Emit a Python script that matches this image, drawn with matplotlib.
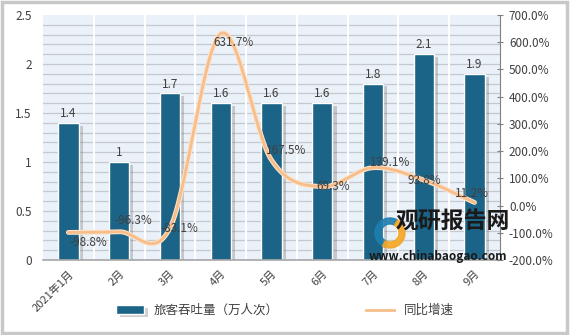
import numpy as np
import matplotlib
matplotlib.use('Agg')
import matplotlib.pyplot as plt
import matplotlib.patheffects as pe
from matplotlib.patches import Rectangle, Wedge

plt.rcParams['font.family'] = ['Noto Sans CJK SC', 'DejaVu Sans']

months = ['2021年1月', '2月', '3月', '4月', '5月', '6月', '7月', '8月', '9月']
passengers = [1.4, 1.0, 1.7, 1.6, 1.6, 1.6, 1.8, 2.1, 1.9]
passenger_labels = ['1.4', '1', '1.7', '1.6', '1.6', '1.6', '1.8', '2.1', '1.9']
growth = [-98.8, -96.3, -83.1, 631.7, 167.5, 69.3, 139.1, 93.8, 11.2]
# label offsets in pixels (dx, dy) relative to the line points
growth_offsets = [(20, -10), (14, 11), (9, 0), (13, -9), (15, 9), (11, 0), (17, 5), (1, 0), (-3, 9)]

bar_color = '#1b6488'
line_color = '#f7bd8a'
text_color = '#404040'


def smooth(xs, ys, n=30):
    # cubic hermite (catmull-rom style) for a smoothed line like the spreadsheet one
    xs = np.asarray(xs, float)
    ys = np.asarray(ys, float)
    m = np.gradient(ys)
    out_x, out_y = [], []
    for i in range(len(xs) - 1):
        t = np.linspace(0, 1, n, endpoint=False)
        h00 = 2*t**3 - 3*t**2 + 1
        h10 = t**3 - 2*t**2 + t
        h01 = -2*t**3 + 3*t**2
        h11 = t**3 - t**2
        out_x.extend(xs[i] + t*(xs[i+1]-xs[i]))
        out_y.extend(h00*ys[i] + h10*m[i] + h01*ys[i+1] + h11*m[i+1])
    out_x.append(xs[-1])
    out_y.append(ys[-1])
    return np.array(out_x), np.array(out_y)


fig = plt.figure(figsize=(5.7, 3.35), dpi=100)
fig.patch.set_facecolor('white')
fig.patches.append(Rectangle((0.004, 0.006), 0.99, 0.988, transform=fig.transFigure,
                             fill=False, edgecolor='#c8c8c8', lw=2.5))

ax = fig.add_axes([0.0754, 0.224, 0.8016, 0.731])
ax.set_facecolor('#eaf1f8')
x = np.arange(len(months))

ax.set_ylim(0, 2.5)
ax.set_xlim(-0.5, len(months) - 0.5)
for yv in np.arange(0.1, 2.5, 0.1):
    ax.axhline(yv, color='#c5c8cc', lw=0.9, zorder=0)
for xv in np.arange(0.5, len(months) - 0.5, 1):
    ax.axvline(xv, color='white', lw=1.5, zorder=0.5)

bars = ax.bar(x, passengers, width=0.4, color=bar_color, edgecolor='white', lw=1,
              zorder=2, label='旅客吞吐量（万人次）')
for b in bars:
    b.set_path_effects([pe.SimplePatchShadow(offset=(3, -2), shadow_rgbFace='#666666', alpha=0.3),
                        pe.Normal()])
for xi, v, lab in zip(x, passengers, passenger_labels):
    ax.annotate(lab, (xi, v), xytext=(0, 2), textcoords='offset points', ha='center', va='bottom',
                fontsize=8.5, color=text_color, zorder=5)

ax.set_yticks([0, 0.5, 1, 1.5, 2, 2.5])
ax.set_yticklabels(['0', '0.5', '1', '1.5', '2', '2.5'])
ax.tick_params(axis='y', length=0, labelsize=8.5, labelcolor=text_color, pad=8)
ax.set_xticks(x)
ax.set_xticklabels(months, rotation=45, ha='right', rotation_mode='anchor')
ax.tick_params(axis='x', length=0, labelsize=8, labelcolor=text_color, pad=6)
for s in ['left', 'top', 'right']:
    ax.spines[s].set_visible(False)
ax.spines['bottom'].set_color('#a6a6a6')
ax.spines['bottom'].set_linewidth(1.2)

ax2 = ax.twinx()
ax2.set_ylim(-200, 700)
sx, sy = smooth(x, growth)
ax2.plot(sx, sy, color='#fde3c8', lw=3.5, zorder=3, solid_capstyle='round')
line, = ax2.plot(sx, sy, color=line_color, lw=2, zorder=4, label='同比增速')
for xi, v, (dx, dy) in zip(x, growth, growth_offsets):
    ax2.annotate('%.1f%%' % v, (xi, v), xytext=(dx, dy), textcoords='offset pixels',
                 ha='center', va='center', fontsize=8.5, color=text_color, zorder=6)

ax2.set_yticks(np.arange(-200, 701, 100))
ax2.set_yticklabels(['%.1f%%' % t for t in np.arange(-200, 701, 100)])
ax2.tick_params(axis='y', direction='inout', length=5, color='#808080', labelsize=8.5,
                labelcolor=text_color, pad=4)
for s in ['left', 'top', 'bottom']:
    ax2.spines[s].set_visible(False)
ax2.spines['right'].set_color('#808080')

# watermark logo
fig.patches.append(Wedge((3.9, 1.02), 0.15, 60, 250, width=0.06, transform=fig.dpi_scale_trans,
                         color='#1f7fb0', alpha=0.9, zorder=10))
fig.patches.append(Wedge((3.9, 1.02), 0.15, 240, 420, width=0.06, transform=fig.dpi_scale_trans,
                         color='#f5a623', alpha=0.9, zorder=10))
fig.text(0.795, 0.337, '观研报告网', fontsize=16.5, fontweight='bold', color='#1a1a1a',
         ha='center', va='center', zorder=10)
fig.text(0.768, 0.233, 'www.chinabaogao.com', fontsize=8.5, fontweight='bold', color='#1a1a1a',
         ha='center', va='center', zorder=10)

fig.legend([bars, line], ['旅客吞吐量（万人次）', '同比增速'], loc='lower center',
           bbox_to_anchor=(0.5, 0.02), ncol=2, frameon=False, fontsize=9,
           columnspacing=7, handlelength=2.2, labelcolor=text_color)

fig.savefig('out.png', dpi=100, facecolor='white')
